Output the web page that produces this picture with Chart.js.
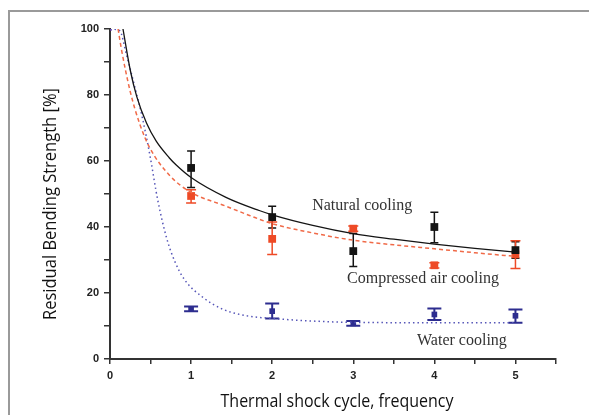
<!DOCTYPE html>
<html>
<head>
<meta charset="utf-8">
<script src="https://cdn.jsdelivr.net/npm/chart.js@4.4.1/dist/chart.umd.min.js"></script>
<style>
  html, body { margin: 0; padding: 0; background: #fff; }
  #wrap { position: relative; width: 589px; height: 415px; }
  #frame { position: absolute; left: 8px; top: 10px; right: 0; bottom: 0;
           border-top: 2px solid #9a9a9a; border-left: 2px solid #9a9a9a; }
  canvas { position: absolute; left: 0; top: 0; }
</style>
</head>
<body>
<div id="wrap">
  <div id="frame"></div>
  <canvas id="chart" width="589" height="415"></canvas>
</div>
<script>
// measured points (thermal shock cycles 1..5)
const cycles = [1, 2, 3, 4, 5];

const naturalMean = [57.9, 43.0, 32.7, 40.0, 33.0];
const naturalLow  = [52.0, 39.7, 28.0, 35.2, 30.5];
const naturalHigh = [63.0, 46.3, 38.0, 44.5, 35.5];

const compressedMean = [49.4, 36.4, 39.5, 28.4, 31.7];
const compressedLow  = [47.3, 31.7, 38.7, 27.6, 27.4];
const compressedHigh = [51.3, 41.5, 40.3, 29.2, 35.8];

const waterMean = [15.2, 14.5, 10.8, 13.5, 13.1];
const waterLow  = [14.5, 12.3, 10.1, 11.8, 11.0];
const waterHigh = [15.9, 16.8, 11.5, 15.3, 15.0];

// fitted curves
const naturalFitX = [0.16, 0.25, 0.33, 0.45, 0.57, 0.73, 0.82, 1.0, 1.43, 1.84, 2.0, 2.5, 3.0, 3.5, 4.0, 4.5, 5.0];
const naturalFitY = [100, 87.5, 79.5, 71.5, 66.0, 61.0, 58.7, 55.0, 49.0, 45.0, 43.7, 40.5, 38.0, 36.3, 34.8, 33.5, 32.4];

const compressedFitX = [0.1, 0.14, 0.25, 0.37, 0.49, 0.74, 1.0, 1.43, 1.72, 2.0, 2.5, 3.0, 3.5, 4.0, 4.5, 5.0];
const compressedFitY = [100, 94.0, 81.0, 71.0, 64.0, 55.5, 50.5, 46.3, 43.5, 41.0, 38.2, 36.0, 34.6, 33.4, 32.2, 31.1];

const waterFitX = [0, 0.12, 0.2, 0.3, 0.4, 0.49, 0.59, 0.7, 0.8, 0.92, 1.15, 1.39, 1.68, 2.0, 2.5, 3.0, 4.0, 5.0];
const waterFitY = [100, 99.5, 92.5, 83.0, 73.0, 62.0, 48.0, 36.5, 29.5, 24.0, 18.6, 15.1, 13.1, 12.3, 11.5, 11.1, 11.0, 11.0];

const yTicks = [0, 20, 40, 60, 80, 100];
const xTicks = [0, 1, 2, 3, 4, 5];

const curveLabels = [
  { text: "Natural cooling", x: 3.11, y: 46.5 },
  { text: "Compressed air cooling", x: 3.86, y: 24.3 },
  { text: "Water cooling", x: 4.34, y: 5.6 }
];

const BLACK = "#141414";
const RED = "#ee4a26";
const BLUE = "#2d2d8f";

function pts(xs, ys) {
  return xs.map((x, i) => ({ x: x, y: ys[i] }));
}

const errorSets = [
  { mean: naturalMean, low: naturalLow, high: naturalHigh, color: BLACK, cap: 4, width: 1.5 },
  { mean: compressedMean, low: compressedLow, high: compressedHigh, color: RED, cap: 5, width: 1.5 },
  { mean: waterMean, low: waterLow, high: waterHigh, color: BLUE, cap: 7, width: 2 }
];

// error bars under the markers
const errorBars = {
  id: "errorBars",
  beforeDatasetsDraw(chart) {
    const { ctx, scales } = chart;
    ctx.save();
    errorSets.forEach((s) => {
      ctx.strokeStyle = s.color;
      ctx.lineWidth = s.width;
      cycles.forEach((c, i) => {
        const px = scales.x.getPixelForValue(c);
        const lo = scales.y.getPixelForValue(s.low[i]);
        const hi = scales.y.getPixelForValue(s.high[i]);
        ctx.beginPath();
        ctx.moveTo(px, lo); ctx.lineTo(px, hi);
        ctx.moveTo(px - s.cap, lo); ctx.lineTo(px + s.cap, lo);
        ctx.moveTo(px - s.cap, hi); ctx.lineTo(px + s.cap, hi);
        ctx.stroke();
      });
    });
    ctx.restore();
  }
};

// text squeezed to a given width (condensed look of the original)
function squeezed(ctx, text, x, y, w) {
  const m = ctx.measureText(text).width;
  ctx.save();
  ctx.translate(x, y);
  ctx.scale(w / m, 1);
  ctx.fillText(text, 0, 0);
  ctx.restore();
}

const textLayer = {
  id: "textLayer",
  afterDraw(chart) {
    const { ctx, scales } = chart;
    ctx.save();
    ctx.fillStyle = "#111";
    ctx.font = '18px "Open Sans"';
    ctx.textAlign = "center";
    ctx.textBaseline = "alphabetic";
    squeezed(ctx, "Thermal shock cycle, frequency", 337, 407, 233);
    ctx.save();
    ctx.translate(56, 204);
    ctx.rotate(-Math.PI / 2);
    squeezed(ctx, "Residual Bending Strength [%]", 0, 0, 232);
    ctx.restore();

    ctx.fillStyle = "#333";
    ctx.font = '16px "Liberation Serif"';
    ctx.textBaseline = "middle";
    curveLabels.forEach((l) => {
      ctx.fillText(l.text, scales.x.getPixelForValue(l.x), scales.y.getPixelForValue(l.y));
    });
    ctx.restore();
  }
};

const tickFont = { family: '"Liberation Sans", Arial', size: 11, weight: "bold" };

new Chart(document.getElementById("chart"), {
  type: "scatter",
  data: {
    datasets: [
      { type: "line", data: pts(naturalFitX, naturalFitY), borderColor: BLACK, borderWidth: 1.3,
        pointRadius: 0, cubicInterpolationMode: "monotone", fill: false },
      { type: "line", data: pts(compressedFitX, compressedFitY), borderColor: "#f06a48", borderWidth: 1.5,
        borderDash: [4, 3], pointRadius: 0, cubicInterpolationMode: "monotone", fill: false },
      { type: "line", data: pts(waterFitX, waterFitY), borderColor: "#5656b8", borderWidth: 1.5,
        borderDash: [1.5, 3], pointRadius: 0, cubicInterpolationMode: "monotone", fill: false },
      { data: pts(cycles, naturalMean), pointStyle: "rect", pointRadius: 5.5,
        backgroundColor: BLACK, borderColor: BLACK, borderWidth: 0 },
      { data: pts(cycles, compressedMean), pointStyle: "rect", pointRadius: 5.5,
        backgroundColor: RED, borderColor: RED, borderWidth: 0 },
      { data: pts(cycles, waterMean), pointStyle: "rect", pointRadius: 4,
        backgroundColor: BLUE, borderColor: BLUE, borderWidth: 0 },
      { data: [{ x: 0, y: 100 }], pointStyle: "rect", pointRadius: 2.5,
        backgroundColor: "#6a3aa0", borderWidth: 0 }
    ]
  },
  options: {
    responsive: false,
    animation: false,
    layout: { padding: { top: 29, right: 33, left: 0, bottom: 0 } },
    plugins: { legend: { display: false }, tooltip: { enabled: false } },
    scales: {
      x: {
        type: "linear", min: 0, max: 5.5,
        afterFit(scale) { scale.height = 56; },
        afterBuildTicks(scale) {
          const t = [];
          for (let i = 0; i <= 11; i++) t.push({ value: i * 0.5 });
          scale.ticks = t;
        },
        ticks: {
          autoSkip: false, maxRotation: 0, padding: 5, color: "#222", font: tickFont,
          callback: (v) => (xTicks.includes(v) ? String(v) : "")
        },
        grid: { drawOnChartArea: false, drawTicks: true, tickLength: 5, color: "#333", lineWidth: 1.5 },
        border: { color: "#333", width: 2 }
      },
      y: {
        type: "linear", min: 0, max: 100,
        afterFit(scale) { scale.width = 110; },
        afterBuildTicks(scale) {
          const t = [];
          for (let i = 0; i <= 10; i++) t.push({ value: i * 10 });
          scale.ticks = t;
        },
        ticks: {
          autoSkip: false, padding: 5, color: "#222", font: tickFont,
          callback: (v) => (yTicks.includes(v) ? String(v) : "")
        },
        grid: { drawOnChartArea: false, drawTicks: true, tickLength: 6, color: "#333", lineWidth: 1.5 },
        border: { color: "#333", width: 2 }
      }
    }
  },
  plugins: [errorBars, textLayer]
});
</script>
</body>
</html>
